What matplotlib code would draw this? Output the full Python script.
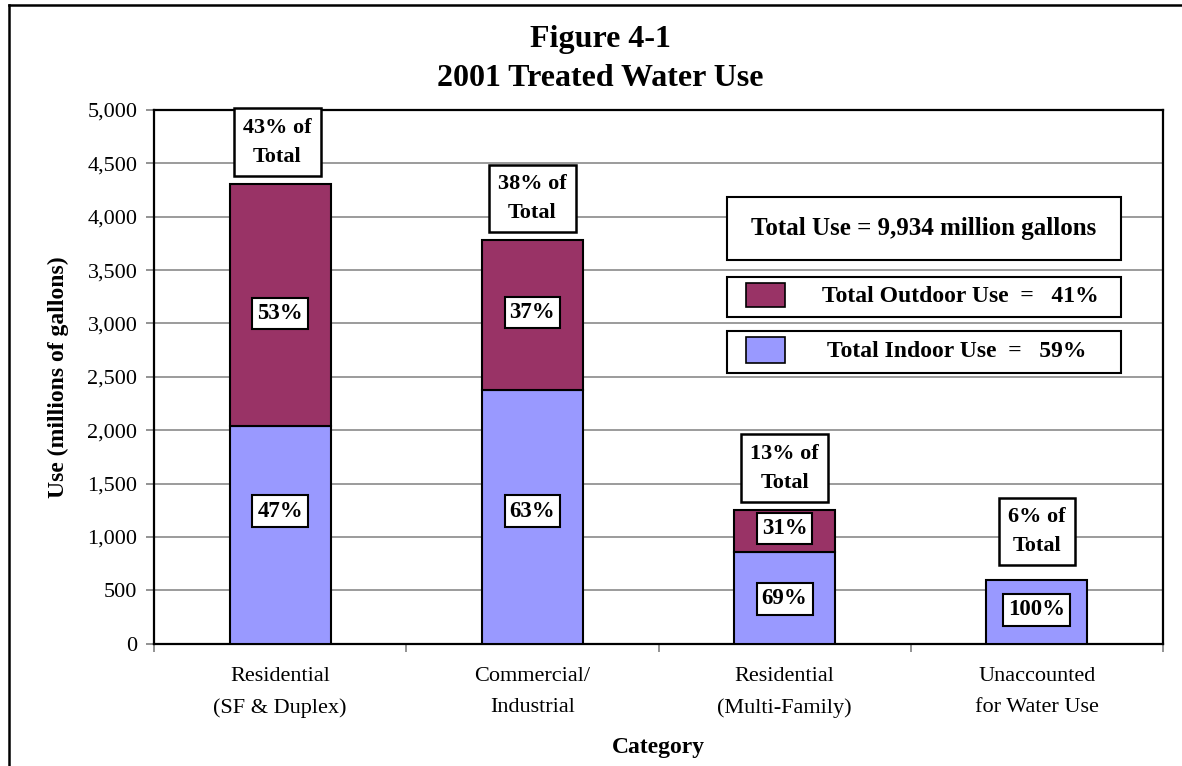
import matplotlib
matplotlib.use("Agg")
import matplotlib.pyplot as plt
from matplotlib.patches import Rectangle
from matplotlib.lines import Line2D
from matplotlib.ticker import FuncFormatter

# data (millions of gallons)
categories = ["Residential\n(SF & Duplex)", "Commercial/\nIndustrial",
              "Residential\n(Multi-Family)", "Unaccounted\nfor Water Use"]
indoor = [2040, 2377, 856, 597]
outdoor = [2267, 1405, 397, 0]
indoor_pct = ["47%", "63%", "69%", "100%"]
outdoor_pct = ["53%", "37%", "31%", None]
share_of_total = ["43% of\nTotal", "38% of\nTotal", "13% of\nTotal", "6% of\nTotal"]
total_use = "9,934"
outdoor_share = "41%"
indoor_share = "59%"

# layout only: heights where the percentage boxes sit
indoor_label_y = [1243, 1243, 419, 316]
outdoor_label_y = [3097, 3106, 1075, None]

c_out = "#993366"
c_in = "#9999FF"
serif = ["Liberation Serif", "DejaVu Serif"]
plt.rcParams["font.family"] = serif

fig = plt.figure(figsize=(11.82, 7.66), dpi=100)
ax = fig.add_axes([154 / 1182, 1 - 643.7 / 766, 1009 / 1182, 533.7 / 766])

x = range(len(categories))
ax.bar(x, indoor, width=0.4, color=c_in, edgecolor="black", linewidth=1.5, zorder=3)
ax.bar(x, outdoor, width=0.4, bottom=indoor, color=c_out, edgecolor="black",
       linewidth=1.5, zorder=3)
# no outdoor part for the last bar -> hide its zero-height edge
ax.patches[-1].set_visible(False)

box = dict(boxstyle="square,pad=0.22", fc="white", ec="black", lw=1.5)
for i in x:
    ax.text(i, indoor_label_y[i], indoor_pct[i], ha="center", va="center",
            fontsize=16.5, fontweight="bold", bbox=box, zorder=5)
    if outdoor_pct[i]:
        ax.text(i, outdoor_label_y[i], outdoor_pct[i], ha="center", va="center",
                fontsize=16.5, fontweight="bold", bbox=box, zorder=5)
    top = indoor[i] + outdoor[i]
    ax.annotate(share_of_total[i], (i, top), xytext=(-2 if i == 0 else 0, 30 if i < 3 else 35),
                textcoords="offset points", ha="center", va="center",
                fontsize=16, fontweight="bold", linespacing=1.6,
                bbox=dict(boxstyle="square,pad=0.42", fc="white", ec="black", lw=1.8),
                zorder=5)

ax.set_xlim(-0.5, 3.5)
ax.set_ylim(0, 5000)
ax.set_yticks(range(0, 5001, 500))
ax.yaxis.set_major_formatter(FuncFormatter(lambda v, p: f"{int(v):,}"))
ax.grid(axis="y", color="#808080", linewidth=1.1, zorder=0)
ax.set_axisbelow(True)

ax.set_xticks([-0.5, 0.5, 1.5, 2.5, 3.5])
ax.set_xticklabels([])
ax.set_xticks(list(x), minor=True)
ax.set_xticklabels(categories, minor=True, fontsize=16, linespacing=1.8)
ax.tick_params(axis="x", which="minor", length=0, pad=17)
ax.tick_params(axis="both", which="major", length=6, width=1.2, color="#808080",
               labelsize=16)
ax.tick_params(axis="y", pad=6)

for s in ax.spines.values():
    s.set_linewidth(1.6)
    s.set_color("black")

ax.set_ylabel("Use (millions of gallons)", fontsize=17, fontweight="bold", labelpad=13)
ax.set_xlabel("Category", fontsize=17, fontweight="bold", labelpad=14)

fig.text(600 / 1182, 1 - 39 / 766, "Figure 4-1", ha="center", va="center",
         fontsize=23, fontweight="bold")
fig.text(600 / 1182, 1 - 79 / 766, "2001 Treated Water Use", ha="center", va="center",
         fontsize=23, fontweight="bold")

# legend-style boxes drawn by hand
tr = ax.transAxes
ax.add_patch(Rectangle((0.568, 0.719), 0.39, 0.118, transform=tr, fc="white",
                       ec="black", lw=1.5, zorder=6))
ax.text(0.763, 0.778, f"Total Use = {total_use} million gallons", transform=tr,
        ha="center", va="center", fontsize=18, fontweight="bold", zorder=7)
ax.add_patch(Rectangle((0.568, 0.612), 0.39, 0.075, transform=tr, fc="white",
                       ec="black", lw=1.5, zorder=6))
ax.add_patch(Rectangle((0.587, 0.631), 0.038, 0.045, transform=tr, fc=c_out,
                       ec="black", lw=1.2, zorder=7))
ax.text(0.799, 0.650, f"Total Outdoor Use  =   {outdoor_share}", transform=tr,
        ha="center", va="center", fontsize=17, fontweight="bold", zorder=7)
ax.add_patch(Rectangle((0.568, 0.507), 0.39, 0.079, transform=tr, fc="white",
                       ec="black", lw=1.5, zorder=6))
ax.add_patch(Rectangle((0.587, 0.526), 0.038, 0.049, transform=tr, fc=c_in,
                       ec="black", lw=1.2, zorder=7))
ax.text(0.796, 0.548, f"Total Indoor Use  =   {indoor_share}", transform=tr,
        ha="center", va="center", fontsize=17, fontweight="bold", zorder=7)

# outer frame of the figure (left and top edges visible)
fig.add_artist(Line2D([8.5 / 1182, 8.5 / 1182], [0, 1 - 5 / 766], color="black", lw=1.8))
fig.add_artist(Line2D([8.5 / 1182, 1], [1 - 5 / 766, 1 - 5 / 766], color="black", lw=1.8))

fig.savefig("out.png", dpi=100)
